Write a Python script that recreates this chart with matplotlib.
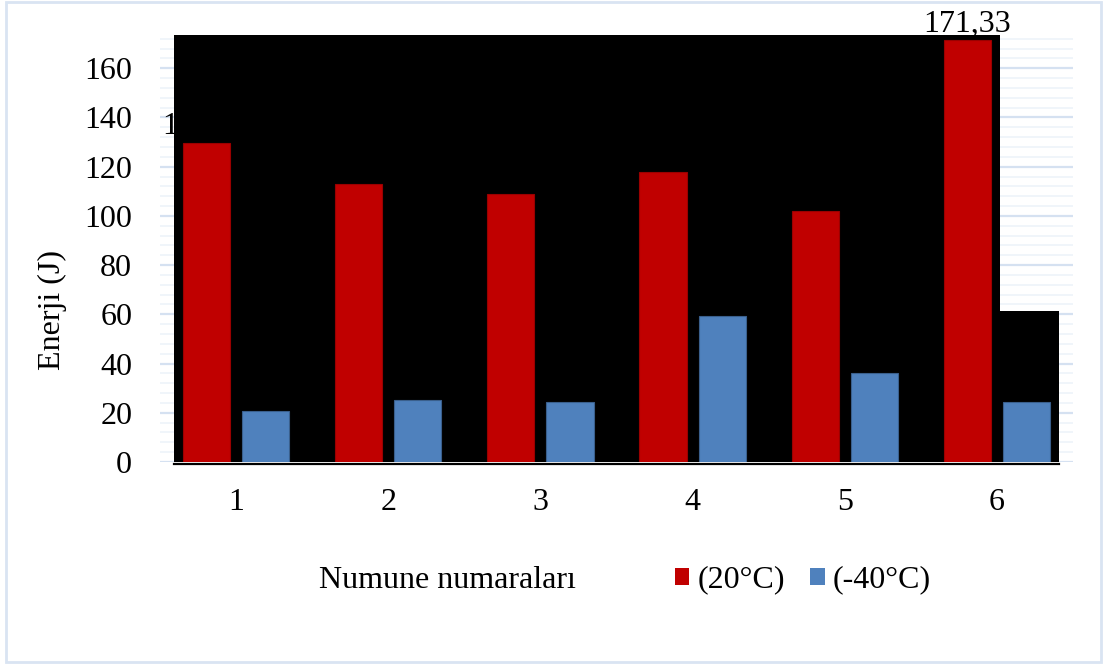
import matplotlib
matplotlib.use("Agg")
import matplotlib.pyplot as plt
from matplotlib.patches import Polygon, Rectangle, Patch
import numpy as np

# Impact test energies per sample
samples = ["1", "2", "3", "4", "5", "6"]
energy_20c = [129.75, 113.10, 108.80, 118.00, 102.10, 171.33]
energy_m40c = [20.90, 25.10, 24.30, 59.30, 36.20, 24.30]
series_names = ["(20°C)", "(-40°C)"]

plt.rcParams["font.family"] = ["Liberation Serif", "DejaVu Serif"]
FS = 23

RED = "#c00000"
BLUE = "#4f81bd"
MAJOR_GRID = "#d5e1f1"
MINOR_GRID = "#eef3f9"

W, H = 1103, 666
fig = plt.figure(figsize=(W / 100, H / 100), dpi=100)
fig.patch.set_facecolor("white")

# Outer frame of the chart
fig.add_artist(Rectangle((6 / W, 1 - 662 / H), (1101 - 6) / W, (662 - 2) / H,
                         transform=fig.transFigure, fill=False,
                         edgecolor="#d9e4f2", linewidth=2))

ax = fig.add_axes([160 / W, (H - 462) / H, 913 / W, (462 - 35) / H])
ymax = 173.5
ax.set_xlim(0.5, 6.5)
ax.set_ylim(0, ymax)

# Gridlines: minor every 4 J, major every 20 J
for v in np.arange(0, 173, 4):
    ax.axhline(v, color=MINOR_GRID, linewidth=1.2, zorder=0)
for v in np.arange(0, 161, 20):
    ax.axhline(v, color=MAJOR_GRID, linewidth=1.6, zorder=0.1)

x = np.arange(1, len(samples) + 1)
width = 0.31
offset = 0.194

bars_r = ax.bar(x - offset, energy_20c, width, color=RED, edgecolor="#9a0000",
                linewidth=0.8, zorder=3)
bars_b = ax.bar(x + offset, energy_m40c, width, color=BLUE, edgecolor="#3a5f8c",
                linewidth=0.8, zorder=3)

# Value labels for the 20°C series
for b, v in zip(bars_r, energy_20c):
    ax.annotate(f"{v:.2f}".replace(".", ","),
                (b.get_x() + b.get_width() / 2, v),
                xytext=(0, 1), textcoords="offset points",
                ha="center", va="bottom", fontsize=FS, color="black",
                zorder=1, annotation_clip=False)

# Dark backdrop behind the bars
x0, x1, x2 = (174 - 160) / 913, (1000 - 160) / 913, (1059 - 160) / 913
yn = (462 - 311) / 427
backdrop = Polygon([(x0, 0), (x2, 0), (x2, yn), (x1, yn), (x1, 1), (x0, 1)],
                   closed=True, transform=ax.transAxes, facecolor="black",
                   edgecolor="none", zorder=2)
ax.add_patch(backdrop)

# Category axis line
ax.plot([x0, x2], [-0.004, -0.004], transform=ax.transAxes, color="black",
        linewidth=1.6, zorder=4, clip_on=False)

for s in ax.spines.values():
    s.set_visible(False)
ax.set_xticks(x)
ax.set_xticklabels(samples)
ax.set_yticks(np.arange(0, 161, 20))
ax.tick_params(axis="both", length=0, labelsize=FS)
ax.tick_params(axis="y", pad=20)
ax.tick_params(axis="x", pad=19)
ax.set_facecolor("none")

fig.text(52 / W, 1 - 310 / H, "Enerji (J)", rotation=90, ha="center",
         va="center", fontsize=FS)
fig.text(447 / W, 1 - 581 / H, "Numune numaraları", ha="center",
         va="center", fontsize=FS)

handles = [Patch(facecolor=RED, edgecolor="none"),
           Patch(facecolor=BLUE, edgecolor="none")]
fig.legend(handles, series_names, loc="center",
           bbox_to_anchor=(803 / W, 1 - 580 / H), ncol=2, frameon=False,
           fontsize=FS, handlelength=0.45, handleheight=0.45,
           handletextpad=0.25, columnspacing=0.8, borderpad=0)

fig.savefig("out.png", dpi=100, facecolor="white")
